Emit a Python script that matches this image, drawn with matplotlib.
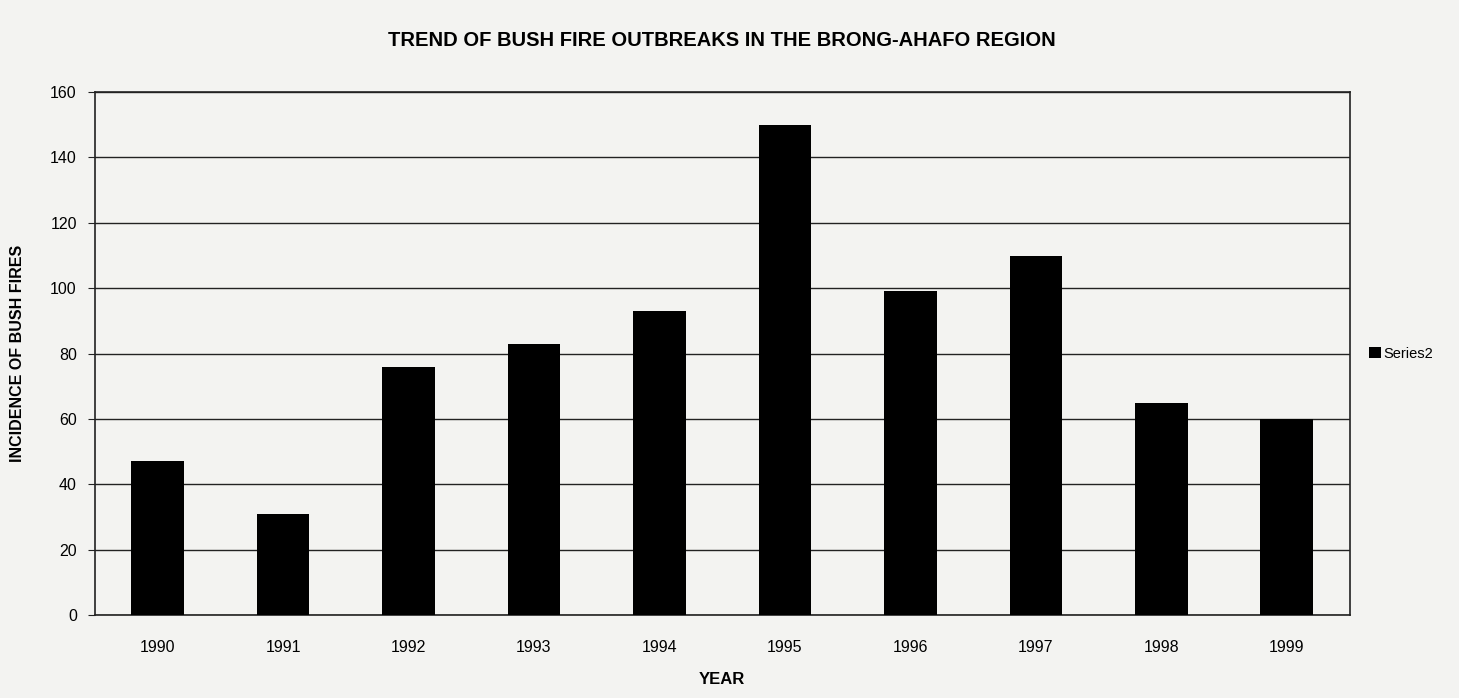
import matplotlib.pyplot as plt

plt.rcParams['font.family'] = ['Liberation Sans', 'DejaVu Sans']

# data
years = ['1990', '1991', '1992', '1993', '1994', '1995', '1996', '1997', '1998', '1999']
incidence = [47, 31, 76, 83, 93, 150, 99, 110, 65, 60]

bg = '#f3f3f1'
fig = plt.figure(figsize=(14.59, 6.98), dpi=100, facecolor=bg)
ax = fig.add_axes([0.065, 0.119, 0.86, 0.749])
ax.set_facecolor(bg)

ax.bar(years, incidence, width=0.42, color='black', label='Series2', zorder=3)

ax.set_ylim(0, 160)
ax.set_yticks(range(0, 161, 20))
ax.set_xlim(-0.5, len(years) - 0.5)
ax.yaxis.grid(True, color='#222222', linewidth=1.0, zorder=0)
for s in ax.spines.values():
    s.set_color('#222222')
    s.set_linewidth(1.2)
ax.tick_params(axis='x', length=0, pad=18, labelsize=11.5)
ax.tick_params(axis='y', length=5, color='#222222', labelsize=11.5, pad=8)

ax.set_title('TREND OF BUSH FIRE OUTBREAKS IN THE BRONG-AHAFO REGION',
             fontsize=14.5, fontweight='bold', pad=33)
ax.set_ylabel('INCIDENCE OF BUSH FIRES', fontsize=11.5, fontweight='bold', labelpad=18)
ax.set_xlabel('YEAR', fontsize=12, fontweight='bold', labelpad=12)

ax.legend(loc='center left', bbox_to_anchor=(1.005, 0.5), frameon=False,
          fontsize=10.5, handlelength=0.8, handleheight=0.8, handletextpad=0.2)

fig.savefig('out.png', dpi=100, facecolor=bg)
